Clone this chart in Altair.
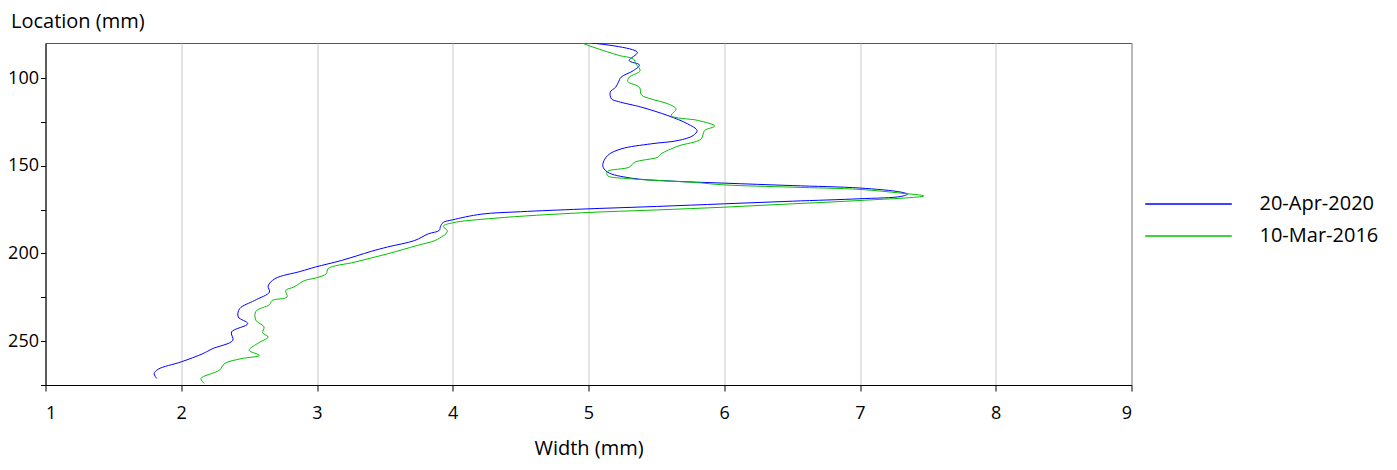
import altair as alt
import pandas as pd

series_names = ["20-Apr-2020", "10-Mar-2016"]
series_colors = ["#0000ff", "#00c000"]

blue_width = [5.025, 5.36, 5.30, 5.375, 5.33, 5.24, 5.22, 5.20, 5.16, 5.17, 5.22, 5.39, 5.585, 5.73, 5.80,
              5.77, 5.66, 5.46, 5.24, 5.14, 5.105, 5.14, 5.31, 5.6, 6.0, 6.5, 7.0, 7.30, 7.35, 7.30,
              7.0, 6.5, 6.0, 5.5, 4.95, 4.5, 4.21, 4.0, 3.93, 3.91, 3.90, 3.82, 3.72, 3.52, 3.40,
              3.18, 2.99, 2.88, 2.69, 2.64, 2.65, 2.54, 2.43, 2.42, 2.49, 2.37, 2.38, 2.23, 2.16, 2.0,
              1.83, 1.80, 1.82]
blue_loc = [80, 85.3, 90, 92.5, 95.8, 99.5, 102.4, 105.2, 108, 111.9, 113.4, 116.6, 121.4, 126.1, 129.9,
            132.8, 135.6, 137.5, 140.4, 144.2, 149.9, 153.6, 157, 158.7, 159.9, 161.3, 162.7, 165, 166.2, 167.5,
            168.8, 170.2, 171.7, 173.2, 174.7, 176.2, 177.6, 180.8, 182.3, 184.5, 186.9, 188.8, 192.6, 196.3, 198.8,
            204, 207.7, 210.2, 214.4, 218.6, 222, 226.8, 231.5, 236.2, 240, 244.8, 249.5, 254.3, 257.1, 261.8,
            266, 268.5, 271.3]

green_width = [4.95, 5.04, 5.23, 5.33, 5.35, 5.38, 5.30, 5.29, 5.375, 5.39, 5.46, 5.585, 5.645, 5.61, 5.81,
               5.93, 5.855, 5.83, 5.66, 5.535, 5.51, 5.34, 5.30, 5.14, 5.14, 5.31, 5.78, 6.0, 6.5, 7.0,
               7.30, 7.47, 7.0, 6.5, 6.0, 5.5, 4.95, 4.31, 4.0, 3.93, 3.96, 3.95, 3.93, 3.87, 3.74,
               3.52, 3.28, 3.08, 3.07, 2.99, 2.91, 2.83, 2.77, 2.78, 2.67, 2.65, 2.55, 2.55, 2.61, 2.60,
               2.64, 2.56, 2.50, 2.575, 2.44, 2.32, 2.28, 2.145, 2.17]
green_loc = [80, 82.5, 87.2, 89.1, 92, 95.8, 99.5, 102, 105.2, 109.6, 111.9, 114.7, 117.6, 121.4, 124.2,
             127.4, 129.9, 134.7, 138.8, 143.2, 145.1, 148, 150.8, 153.3, 155.6, 157.4, 159.5, 160.9, 162.2, 163.5,
             165.6, 167.2, 169.8, 171.7, 173.6, 175.2, 176.8, 179.9, 182.5, 184.5, 186.9, 188.8, 189.9, 192.6, 195.4,
             200.2, 204.9, 208.7, 211.5, 214, 215.4, 219.1, 221.1, 224.8, 226.8, 229.2, 233, 238.1, 241.9, 245.2,
             247.6, 251.4, 255.2, 258.1, 260, 262.8, 266.6, 271.3, 274.2]

x_tick_values = [1, 1.5, 2, 2.5, 3, 3.5, 4, 4.5, 5, 5.5, 6, 6.5, 7, 7.5, 8, 8.5, 9]
y_tick_values = [100, 125, 150, 175, 200, 225, 250, 275]

rows = []
for name, ws, ls in [(series_names[0], blue_width, blue_loc), (series_names[1], green_width, green_loc)]:
    for i, (w, l) in enumerate(zip(ws, ls)):
        rows.append({"series": name, "width": w, "loc": l, "i": i})
df = pd.DataFrame(rows)

chart = alt.Chart(df).mark_line(strokeWidth=1, interpolate="catmull-rom", clip=True).encode(
    x=alt.X("width:Q",
            scale=alt.Scale(domain=[1, 9], nice=False, zero=False),
            axis=alt.Axis(title="Width (mm)", values=x_tick_values, format="d",
                          labelExpr="datum.value % 1 == 0 ? datum.label : ''",
                          grid=True, gridColor="#c8c8c8",
                          gridOpacity={"condition": {"test": "datum.value % 1 != 0", "value": 0}, "value": 1},
                          tickSize=6, tickColor="black", domainColor="black",
                          labelFontSize=18, labelPadding=13, labelColor="black",
                          titleFontSize=20, titleFontWeight="normal", titleColor="black",
                          titleY=63, titleBaseline="middle")),
    y=alt.Y("loc:Q",
            scale=alt.Scale(domain=[80, 275], reverse=True, nice=False, zero=False),
            axis=alt.Axis(title="Location (mm)", values=y_tick_values, format="d",
                          labelExpr="datum.value % 50 == 0 ? datum.label : ''",
                          grid=False, tickSize=5, tickColor="black", domainColor="black",
                          labelFontSize=18, labelPadding=2, labelColor="black",
                          titleFontSize=20, titleFontWeight="normal", titleColor="black",
                          titleAngle=0, titleAlign="left", titleX=-35, titleY=-22,
                          titleBaseline="middle")),
    color=alt.Color("series:N",
                    scale=alt.Scale(domain=series_names, range=series_colors),
                    legend=alt.Legend(title=None, orient="none", legendX=1133, legendY=151,
                                      symbolType="M-5,0H5", symbolSize=300, symbolStrokeWidth=1.3,
                                      labelOffset=61, labelFontSize=20, labelColor="black",
                                      rowPadding=12, padding=0)),
    order=alt.Order("i:Q"),
).properties(
    width=1086, height=342,
    autosize=alt.AutoSizeParams(type="none"),
    padding={"left": 37.5, "top": 35, "right": 250, "bottom": 77},
).configure(font="Open Sans").configure_view(stroke="#555555", strokeWidth=1)

chart.save("out.html", embed_options={"renderer": "svg", "actions": False})
